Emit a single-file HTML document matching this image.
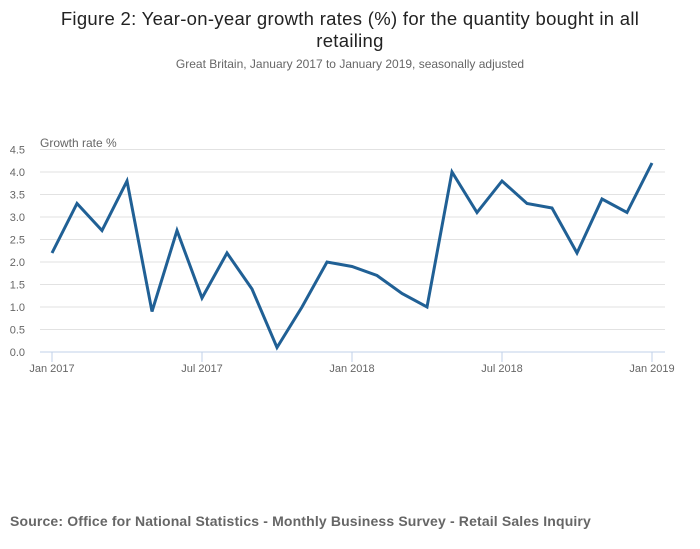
<!DOCTYPE html>
<html><head><meta charset="utf-8"><style>
body{margin:0;width:700px;height:549px;background:#fff;font-family:"Liberation Sans",sans-serif;overflow:hidden;position:relative}
.t{position:absolute;left:0;width:700px;text-align:center;color:#222}
</style></head><body>
<div class="t" style="top:8px;font-size:18.5px;line-height:22px;padding:0 55px;box-sizing:border-box;letter-spacing:0.3px">Figure 2: Year-on-year growth rates (%) for the quantity bought in all retailing</div>
<div class="t" style="top:57px;font-size:12px;color:#666">Great Britain, January 2017 to January 2019, seasonally adjusted</div>
<svg id="c" width="700" height="549" style="position:absolute;left:0;top:0"></svg>
<div style="position:absolute;left:10px;top:513px;font-size:14px;font-weight:bold;color:#666;letter-spacing:0.15px">Source: Office for National Statistics - Monthly Business Survey - Retail Sales Inquiry</div>
<script>
const values=[2.2,3.3,2.7,3.8,0.9,2.7,1.2,2.2,1.4,0.1,1.0,2.0,1.9,1.7,1.3,1.0,4.0,3.1,3.8,3.3,3.2,2.2,3.4,3.1,4.2];
const yTicks=[0,0.5,1,1.5,2,2.5,3,3.5,4,4.5];
const xTickIdx=[0,6,12,18,24];
const xTickLabels=["Jan 2017","Jul 2017","Jan 2018","Jul 2018","Jan 2019"];
const svg=document.getElementById('c'),NS='http://www.w3.org/2000/svg';
const x=i=>52+i*25, y=v=>352-v*45;
function mk(t,a,p){const e=document.createElementNS(NS,t);for(const k in a)e.setAttribute(k,a[k]);(p||svg).appendChild(e);return e;}
yTicks.forEach(v=>{
 const l=mk('line',{x1:40,x2:665,y1:y(v),y2:y(v),stroke:v===0?'#c0d0e8':'#e2e2e2','stroke-width':1});
 
 
 const t=mk('text',{x:25,y:y(v)+4,'text-anchor':'end','font-size':11,fill:'#666','font-family':'Liberation Sans, sans-serif'});
 t.textContent=v.toFixed(1);
 
 
});
xTickIdx.forEach((i,k)=>{
 const l=mk('line',{x1:x(i),x2:x(i),y1:352,y2:362,stroke:'#c0d0e8'});
 
 
 const t=mk('text',{x:x(i),y:372,'text-anchor':'middle','font-size':11,fill:'#666','font-family':'Liberation Sans, sans-serif'});
 t.textContent=xTickLabels[k];
 
 
});
const yt=mk('text',{x:40,y:147,'font-size':12,fill:'#666','font-family':'Liberation Sans, sans-serif'});
yt.textContent='Growth rate %';


const p=mk('polyline',{points:values.map((v,i)=>x(i)+','+y(v)).join(' '),fill:'none',stroke:'#206095','stroke-width':3,'stroke-linejoin':'miter'});


</script>
</body></html>
